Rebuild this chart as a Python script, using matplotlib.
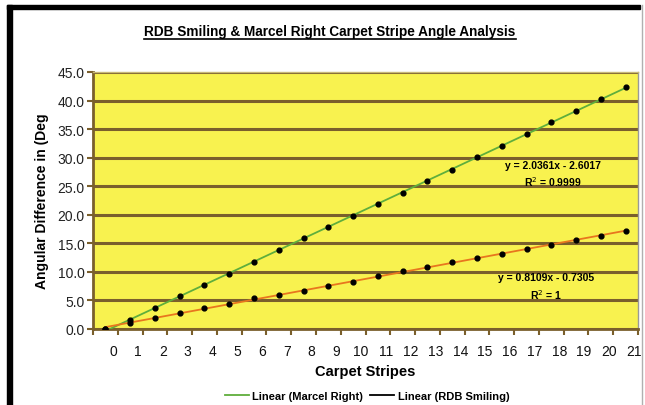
import numpy as np
import matplotlib.pyplot as plt
from matplotlib.patches import Rectangle
from matplotlib.lines import Line2D
from matplotlib.transforms import ScaledTranslation

# Data
stripes = list(range(22))
marcel_right = [0, 1.6, 3.7, 5.7, 7.7, 9.7, 11.8, 13.8, 15.9, 17.9, 19.8,
                21.9, 23.9, 25.9, 27.9, 30.1, 32.0, 34.1, 36.2, 38.2, 40.3, 42.4]
rdb_smiling = [0, 1.0, 2.0, 2.8, 3.7, 4.4, 5.4, 6.0, 6.7, 7.5, 8.3,
               9.2, 10.1, 10.8, 11.7, 12.4, 13.2, 14.0, 14.7, 15.6, 16.3, 17.2]
y_ticks = [0, 5, 10, 15, 20, 25, 30, 35, 40, 45]

title = "RDB Smiling & Marcel Right Carpet Stripe Angle Analysis"
eq_marcel = "y = 2.0361x - 2.6017\nR$^2$ = 0.9999"
eq_rdb = "y = 0.8109x - 0.7305\nR$^2$ = 1"

BROWN = "#7a5f2c"
YELLOW = "#f8f24f"
GREEN = "#5fae3c"
ORANGE = "#e8761e"

plt.rcParams['font.family'] = ['Liberation Sans', 'DejaVu Sans']

fig = plt.figure(figsize=(6.45, 4.06), dpi=100)
fig.patch.set_facecolor("white")

# scanned-frame border
fig.add_artist(Rectangle((7/645, -0.05), 5/645, 1.05 - 6/406, transform=fig.transFigure,
                         color="black", zorder=10))
fig.add_artist(Rectangle((7/645, 1 - 10/406), 633/645, 4/406, transform=fig.transFigure,
                         color="black", zorder=10))
fig.add_artist(Line2D([642/645, 642/645], [0, 1 - 6/406], transform=fig.transFigure,
                      color="#b0b0b0", lw=1, zorder=10))

ax = fig.add_axes([93/645, 1 - 330/406, (638 - 93)/645, (330 - 73)/406])
ax.set_facecolor(YELLOW)

x = np.array(stripes)
for vals, col in [(marcel_right, GREEN), (rdb_smiling, ORANGE)]:
    k, b = np.polyfit(x, vals, 1)
    ax.plot(x, k * x + b, color=col, lw=1.3, zorder=3)
    ax.scatter(x, vals, s=12, color="black", zorder=4)

ax.set_xlim(-0.45, 21.5)
ax.set_ylim(0, 45)
ax.set_yticks(y_ticks)
ax.set_yticklabels([f"{v:.1f}" for v in y_ticks], fontsize=10, color="#222222")
ax.yaxis.grid(True, color=BROWN, lw=2.2)
ax.set_axisbelow(True)

ax.set_xticks(stripes)
ax.set_xticklabels([str(s) for s in stripes], fontsize=10, color="#111111")
ax.set_xticks(np.arange(-0.5, 22, 1), minor=True)
ax.tick_params(axis="x", which="major", length=0, pad=11)
ax.tick_params(axis="x", which="minor", length=4, width=1.5, color=BROWN, direction="out")
ax.tick_params(axis="y", length=4, width=1.5, color=BROWN, direction="out", pad=2)
# labels in the source sit a little right of their categories
for lbl in ax.get_xticklabels():
    lbl.set_transform(lbl.get_transform() + ScaledTranslation(8/100, 0, fig.dpi_scale_trans))

for side in ["left", "bottom"]:
    ax.spines[side].set_color(BROWN)
    ax.spines[side].set_linewidth(2)
ax.spines["right"].set_color("#999999")
ax.spines["right"].set_linewidth(1)
ax.spines["top"].set_color("#c8b878")
ax.spines["top"].set_linewidth(1)

ax.set_xlabel("Carpet Stripes", fontsize=10.5, fontweight="bold", labelpad=4)
ax.set_ylabel("Angular Difference in (Deg", fontsize=10, fontweight="bold", labelpad=6)

ax.text(18.06, 27.1, eq_marcel, ha="center", va="center", fontsize=7.5,
        fontweight="bold", linespacing=1.4, zorder=5)
ax.text(17.8, 7.4, eq_rdb, ha="center", va="center", fontsize=7.5,
        fontweight="bold", linespacing=1.4, zorder=5)

t = fig.text(330/645, 1 - 32/406, title, ha="center", va="center",
             fontsize=9.8, fontweight="bold")
fig.canvas.draw()
bb = t.get_window_extent().transformed(fig.transFigure.inverted())
fig.add_artist(Line2D([bb.x0, bb.x1], [bb.y0 - 1/406, bb.y0 - 1/406],
                      transform=fig.transFigure, color="black", lw=1.2))

handles = [Line2D([], [], color=GREEN, lw=1.3), Line2D([], [], color="black", lw=1.3)]
fig.legend(handles, ["Linear (Marcel Right)", "Linear (RDB Smiling)"],
           loc="center", bbox_to_anchor=(367/645, 1 - 397/406), ncol=2,
           frameon=False, handlelength=2.2, columnspacing=0.6,
           handletextpad=0.3, prop={'weight': 'bold', 'size': 8})

fig.savefig("out.png", dpi=100)
